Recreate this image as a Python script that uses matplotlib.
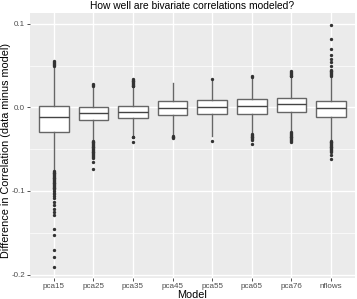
import matplotlib
matplotlib.use("Agg")
import matplotlib.pyplot as plt

# Modele (kategorie na osi X)
modele = ['pca15', 'pca25', 'pca35', 'pca45', 'pca55', 'pca65', 'pca76', 'nflows']

# Statystyki pudełek
mediany = [-0.011, -0.007, -0.005, -0.001, 0.0003, 0.0014, 0.004, -0.001]
q1 = [-0.029, -0.015, -0.013, -0.009, -0.008, -0.008, -0.005, -0.011]
q3 = [0.002, 0.001, 0.002, 0.007, 0.009, 0.010, 0.011, 0.008]
wasy_dol = [-0.075, -0.038, -0.033, -0.033, -0.034, -0.031, -0.029, -0.039]
wasy_gora = [0.047, 0.025, 0.024, 0.029, 0.031, 0.035, 0.036, 0.037]

# Wartości odstające
odstajace = [
    [0.049, 0.051, 0.052, 0.053, 0.054, 0.055,
     -0.076, -0.077, -0.078, -0.079, -0.080, -0.081, -0.082, -0.083, -0.084,
     -0.085, -0.086, -0.087, -0.088, -0.089, -0.090, -0.091, -0.092, -0.093,
     -0.094, -0.095, -0.096, -0.097, -0.098, -0.100, -0.102, -0.104, -0.106,
     -0.108, -0.113, -0.117, -0.121, -0.125, -0.129, -0.145, -0.153, -0.171,
     -0.179, -0.191],
    [0.026, 0.027, 0.028,
     -0.040, -0.041, -0.042, -0.043, -0.044, -0.045, -0.046, -0.047, -0.048,
     -0.049, -0.050, -0.051, -0.052, -0.053, -0.054, -0.055, -0.056, -0.057,
     -0.058, -0.059, -0.061, -0.065, -0.074],
    [0.025, 0.026, 0.027, 0.028, 0.029, 0.030, 0.031, 0.032, 0.033, 0.034,
     -0.035, -0.036, -0.042],
    [-0.034, -0.035, -0.036, -0.037],
    [0.034, -0.040],
    [0.036, 0.037,
     -0.032, -0.033, -0.034, -0.035, -0.036, -0.037, -0.038, -0.039, -0.044],
    [0.037, 0.038, 0.039, 0.040, 0.041, 0.042, 0.043,
     -0.030, -0.031, -0.032, -0.033, -0.034, -0.035, -0.036, -0.037, -0.038,
     -0.039, -0.040, -0.042],
    [0.038, 0.039, 0.040, 0.041, 0.042, 0.043, 0.044, 0.045, 0.050, 0.054,
     0.058, 0.062, 0.070, 0.082, 0.099,
     -0.040, -0.041, -0.042, -0.043, -0.044, -0.045, -0.046, -0.047, -0.048,
     -0.049, -0.050, -0.051, -0.052, -0.053, -0.057, -0.062],
]

# Etykiety osi Y
y_ticki = [-0.2, -0.1, 0.0, 0.1]
y_etykiety = ['-0.2', '-0.1', '0.0', '0.1']

plt.rcParams['font.family'] = ['Liberation Sans', 'DejaVu Sans']

fig = plt.figure(figsize=(3.57, 2.99), dpi=100)
ax = fig.add_axes([0.084, 0.070, 0.910, 0.887])
ax.set_facecolor('#EBEBEB')

statystyki = []
for i in range(len(modele)):
    statystyki.append({
        'med': mediany[i], 'q1': q1[i], 'q3': q3[i],
        'whislo': wasy_dol[i], 'whishi': wasy_gora[i],
        'fliers': odstajace[i], 'label': modele[i],
    })

kolor = '#666666'
ax.bxp(statystyki, positions=range(1, len(modele) + 1), widths=0.75,
       patch_artist=True, showcaps=False,
       boxprops=dict(facecolor='white', edgecolor=kolor, linewidth=1.0),
       medianprops=dict(color='#444444', linewidth=1.0),
       whiskerprops=dict(color=kolor, linewidth=1.0),
       flierprops=dict(marker='o', markersize=1.4, markerfacecolor='#333333',
                       markeredgecolor='#333333', linestyle='none'),
       zorder=3)

# Siatka w stylu ggplot
for y in [-0.15, -0.05, 0.05]:
    ax.axhline(y, color='white', linewidth=0.5, zorder=0)
ax.grid(True, color='white', linewidth=1.0, zorder=0)
ax.set_axisbelow(True)

ax.set_xlim(0.4, 8.6)
ax.set_ylim(-0.2042, 0.113)
ax.set_yticks(y_ticki)
ax.set_yticklabels(y_etykiety)
ax.set_xticks(range(1, len(modele) + 1))
ax.set_xticklabels(modele)

for s in ax.spines.values():
    s.set_visible(False)
ax.tick_params(axis='both', colors='#333333', length=2, width=0.6,
               labelsize=5.8, labelcolor='#4d4d4d', pad=1.5)

ax.set_xlabel('Model', fontsize=7.8, labelpad=0)
ax.set_ylabel('Difference in Correlation (data minus model)', fontsize=7.8,
              va='top')
ax.yaxis.set_label_coords(-0.090, 0.48)
ax.set_title('How well are bivariate correlations modeled?', fontsize=7.4,
             pad=3)

fig.savefig('out.png', dpi=100)
